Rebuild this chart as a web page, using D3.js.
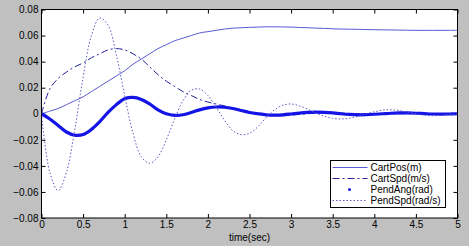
<!DOCTYPE html>
<html>
<head>
<meta charset="utf-8">
<script src="https://cdn.jsdelivr.net/npm/d3@7"></script>
<style>
	body { margin: 0; background: #c0c0c0; }
	svg { display: block; font-family: "Liberation Sans", Arial, sans-serif; }
</style>
</head>
<body>
<svg id="chart"></svg>
<script>
// time samples (sec)
const time = d3.range(0, 51).map(i => +(i * 0.1).toFixed(1));

const cartPos = [0, 0.002, 0.004, 0.007, 0.010, 0.013, 0.017, 0.021, 0.025, 0.029,
	0.033, 0.038, 0.042, 0.046, 0.050, 0.053, 0.056, 0.058, 0.060, 0.062,
	0.063, 0.064, 0.065, 0.0657, 0.066, 0.0663, 0.0665, 0.0667, 0.0667, 0.0666,
	0.0665, 0.0662, 0.066, 0.0657, 0.0655, 0.0652, 0.065, 0.0649, 0.0648, 0.0646,
	0.0645, 0.0644, 0.0643, 0.0642, 0.0641, 0.064, 0.064, 0.064, 0.064, 0.064, 0.064];

const cartSpd = [0, 0.019, 0.027, 0.032, 0.036, 0.039, 0.043, 0.046, 0.049, 0.050,
	0.049, 0.046, 0.042, 0.036, 0.030, 0.025, 0.021, 0.017, 0.014, 0.011,
	0.009, 0.0075, 0.006, 0.0045, 0.003, 0.0015, 0, -0.001, -0.0015, -0.0015,
	-0.001, -0.0005, 0, 0.0005, 0.0008, 0.0008, 0.0005, 0.0002, 0, -0.0002,
	-0.0003, -0.0003, -0.0002, 0, 0.0001, 0.0002, 0.0002, 0.0001, 0, 0, 0];

const pendAng = [0, -0.004, -0.009, -0.014, -0.0165, -0.016, -0.012, -0.006, 0.001, 0.007,
	0.0115, 0.0125, 0.011, 0.0075, 0.003, 0, -0.0012, -0.0008, 0.001, 0.003,
	0.0045, 0.0052, 0.005, 0.004, 0.0025, 0.001, 0, -0.0008, -0.001, -0.0008,
	-0.0002, 0.0005, 0.001, 0.0012, 0.001, 0.0006, 0, -0.0005, -0.0008, -0.0007,
	-0.0004, 0, 0.0004, 0.0006, 0.0006, 0.0004, 0.0001, -0.0002, -0.0003, -0.0002, 0];

const pendSpd = [0, -0.045, -0.059, -0.045, -0.012, 0.028, 0.060, 0.0735, 0.068, 0.045,
	0.014, -0.015, -0.033, -0.038, -0.033, -0.020, -0.004, 0.010, 0.018, 0.019,
	0.014, 0.005, -0.005, -0.013, -0.016, -0.015, -0.010, -0.003, 0.003, 0.0065,
	0.0075, 0.006, 0.0035, 0.0005, -0.002, -0.0035, -0.004, -0.0035, -0.002, 0,
	0.0015, 0.0028, 0.003, 0.0025, 0.0012, 0, -0.001, -0.0015, -0.0012, -0.0005, 0];

const xTicks = [0, 0.5, 1, 1.5, 2, 2.5, 3, 3.5, 4, 4.5, 5];
const yTicks = [-0.08, -0.06, -0.04, -0.02, 0, 0.02, 0.04, 0.06, 0.08];

const series = [
	{ name: "CartPos(m)", values: cartPos, color: "#5a5ad2", width: 1, dash: null },
	{ name: "CartSpd(m/s)", values: cartSpd, color: "#20209a", width: 1, dash: "7,3,2,3" },
	{ name: "PendAng(rad)", values: pendAng, color: "#1414e6", width: 3.2, dash: null },
	{ name: "PendSpd(rad/s)", values: pendSpd, color: "#5a5ac8", width: 1, dash: "1.5,2" }
];

const W = 469, H = 246;
const margin = { top: 9.5, right: 11.5, bottom: 28, left: 41.5 };
const width = W - margin.left - margin.right;
const height = H - margin.top - margin.bottom;

const svg = d3.select("#chart").attr("width", W).attr("height", H);
svg.append("rect").attr("width", W).attr("height", H).attr("fill", "#c0c0c0");

const g = svg.append("g").attr("transform", `translate(${margin.left},${margin.top})`);

const x = d3.scaleLinear().domain([0, 5]).range([0, width]);
const y = d3.scaleLinear().domain([-0.08, 0.08]).range([height, 0]);

g.append("rect").attr("width", width).attr("height", height).attr("fill", "#fff");

const fmt = d => d === 0 ? "0" : d3.format(".2f")(d);

// axes with inward ticks
g.append("g").attr("transform", `translate(0,${height})`)
	.call(d3.axisBottom(x).tickValues(xTicks).tickSize(-4).tickPadding(3).tickFormat(d => String(d)));
g.append("g")
	.call(d3.axisTop(x).tickValues(xTicks).tickSize(-4).tickFormat(""));
g.append("g")
	.call(d3.axisLeft(y).tickValues(yTicks).tickSize(-4).tickPadding(3).tickFormat(fmt));
g.append("g").attr("transform", `translate(${width},0)`)
	.call(d3.axisRight(y).tickValues(yTicks).tickSize(-4).tickFormat(""));

g.selectAll(".domain").attr("stroke", "none");
g.selectAll(".tick line").attr("stroke", "#000");
g.selectAll(".tick text").attr("font-size", 10).attr("fill", "#000")
	.attr("font-family", "'Liberation Sans', Arial, sans-serif");

// lines
const line = d3.line().curve(d3.curveCatmullRom);
series.forEach(s => {
	g.append("path")
		.attr("d", line(s.values.map((v, i) => [x(time[i]), y(v)])))
		.attr("fill", "none")
		.attr("stroke", s.color)
		.attr("stroke-width", s.width)
		.attr("stroke-dasharray", s.dash);
});

g.append("rect").attr("width", width).attr("height", height)
	.attr("fill", "none").attr("stroke", "#000").attr("stroke-width", 1);

g.append("text")
	.attr("x", width / 2).attr("y", height + 23)
	.attr("text-anchor", "middle").attr("font-size", 10)
	.text("time(sec)");

// legend
const lg = svg.append("g").attr("transform", "translate(330.5,160.5)");
lg.append("rect").attr("width", 115).attr("height", 47)
	.attr("fill", "#fff").attr("stroke", "#000");
series.forEach((s, i) => {
	const yy = 7 + i * 11;
	if (s.name === "PendAng(rad)") {
		lg.append("circle").attr("cx", 19).attr("cy", yy).attr("r", 1.5).attr("fill", s.color);
	} else {
		lg.append("line").attr("x1", 2).attr("x2", 37).attr("y1", yy).attr("y2", yy)
			.attr("stroke", s.color).attr("stroke-width", 1)
			.attr("stroke-dasharray", s.dash);
	}
	lg.append("text").attr("x", 40).attr("y", yy + 3.5)
		.attr("font-size", 10).text(s.name);
});
</script>
</body>
</html>
